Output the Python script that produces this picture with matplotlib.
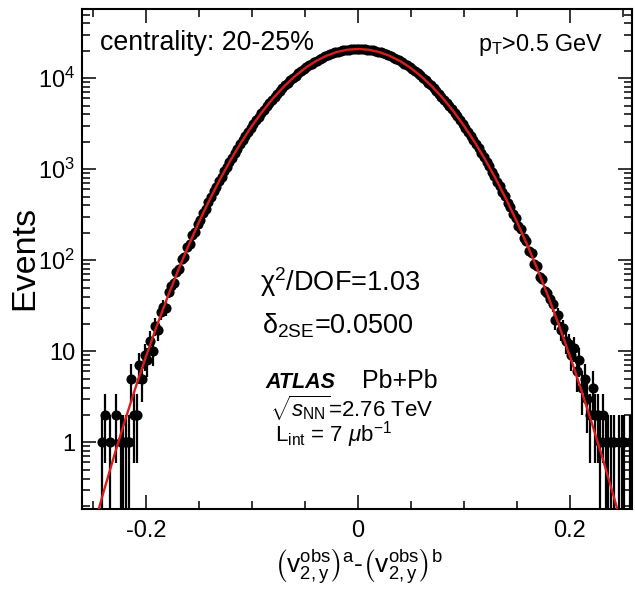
import numpy as np
import matplotlib
matplotlib.use("Agg")
import matplotlib.pyplot as plt
from matplotlib.ticker import MultipleLocator, LogLocator, NullFormatter

plt.rcParams['font.family'] = ['Liberation Sans', 'DejaVu Sans']
plt.rcParams['mathtext.fontset'] = 'custom'
plt.rcParams['mathtext.rm'] = 'Liberation Sans'
plt.rcParams['mathtext.it'] = 'Liberation Sans:italic'
plt.rcParams['mathtext.bf'] = 'Liberation Sans:bold'

# ---- data (bin width 0.0025, centres from -0.25875 to 0.25875) ----
bin_width = 0.0025
first_center = -0.25875
counts_left = [0, 0, 0, 0, 0, 0, 0, 1, 2, 0, 1, 0, 2, 0, 1, 1, 1, 1, 5, 2,
               2, 7, 5, 9, 8, 13, 10, 19, 17, 27, 31, 30, 45, 52, 56, 75, 80, 104,
               109, 140, 150, 189, 205, 252, 279, 335, 370, 441, 490, 575, 640, 745,
               828, 952, 1060, 1211, 1345, 1524, 1688, 1899, 2097, 2345, 2581, 2868,
               3146, 3472, 3795, 4165, 4532, 4947, 5360, 5820, 6279, 6784, 7285,
               7830, 8368, 8949, 9518, 10129, 10725, 11355, 11966, 12606, 13220,
               13859, 14465, 15090, 15675, 16271, 16820, 17374, 17875, 18373, 18811,
               19242, 19605, 19956, 20235, 20497, 20683, 20848, 20936, 21001]
counts_right = [20988, 20950, 20835, 20698, 20483, 20250, 19940, 19620, 19228, 18826,
                18359, 17890, 17360, 16835, 16257, 15690, 15076, 14480, 13845, 13235,
                12592, 11980, 11340, 10738, 10115, 9532, 8935, 8381, 7817, 7298, 6770,
                6292, 5807, 5373, 4932, 4546, 4151, 3808, 3458, 3160, 2853, 2597, 2329,
                2113, 1883, 1703, 1508, 1360, 1195, 1077, 938, 844, 728, 656, 560, 505,
                426, 385, 320, 292, 238, 219, 176, 163, 128, 121, 92, 86, 66, 63, 46,
                44, 38, 33, 22, 25, 17, 18, 13, 12, 9, 11, 6, 8, 4, 5, 3, 2, 4, 2, 2,
                1, 2, 1, 1, 1, 1, 0, 1, 1, 1, 0, 1, 0]

fit_step = 0.01
fit_start = -0.26
fit_values = [0.0409, 0.110, 0.286, 0.714, 1.713, 3.953, 8.774, 18.74, 38.48, 76.03,
              144.4, 263.9, 464.0, 784.6, 1276, 1996, 3002, 4345, 6047, 8095, 10420,
              12910, 15380, 17630, 19430, 20590, 21000, 20590, 19430, 17630, 15380,
              12910, 10420, 8095, 6047, 4345, 3002, 1996, 1276, 784.6, 464.0, 263.9,
              144.4, 76.03, 38.48, 18.74, 8.774, 3.953, 1.713, 0.714, 0.286, 0.110,
              0.0409]

xtick_vals = [-0.2, 0.0, 0.2]
xtick_labels = ['-0.2', '0', '0.2']
ytick_vals = [1, 10, 100, 1000, 10000]
ytick_labels = ['1', '10', r'$10^{2}$', r'$10^{3}$', r'$10^{4}$']

# ---- figure ----
W, H = 635, 591
fig = plt.figure(figsize=(W / 100, H / 100), dpi=100)
ax = fig.add_axes([82 / W, 1 - 509 / H, 550 / W, 500 / H])

counts = np.array(counts_left + counts_right, dtype=float)
centers = first_center + bin_width * np.arange(len(counts))
m = counts > 0
y = counts[m]
x = centers[m]
err = np.sqrt(y)
err_lo = np.where(err >= y, y - 1e-4, err)

ax.errorbar(x, y, yerr=[err_lo, err], xerr=bin_width / 2, fmt='o', color='black',
            ms=7.3, mew=0, elinewidth=1.6, capsize=0, zorder=3)

fit_x = fit_start + fit_step * np.arange(len(fit_values))
ax.plot(fit_x, fit_values, color='#dc1c1c', lw=1.7, zorder=5)

ax.set_yscale('log')
ax.set_xlim(-0.2604, 0.2585)
ax.set_ylim(0.185, 5.77e4)

ax.set_xticks(xtick_vals)
ax.set_xticklabels(xtick_labels)
ax.xaxis.set_minor_locator(MultipleLocator(0.05))
ax.set_yticks(ytick_vals)
ax.set_yticklabels(ytick_labels)
ax.yaxis.set_minor_locator(LogLocator(base=10, subs=np.arange(2, 10)))
ax.yaxis.set_minor_formatter(NullFormatter())

ax.tick_params(which='both', direction='in', top=True, right=True, width=1.1,
               labelsize=17)
ax.tick_params(which='major', length=10)
ax.tick_params(which='minor', length=5.5)
ax.tick_params(axis='x', pad=8)
ax.tick_params(axis='y', pad=5)
for s in ax.spines.values():
    s.set_linewidth(1.5)


def fx(px):
    return px / W


def fy(py):
    return 1 - py / H


fig.text(fx(100), fy(50), 'centrality: 20-25%', fontsize=19.3, va='baseline')
fig.text(fx(478), fy(51), r'p$_{\mathrm{T}}$>0.5 GeV', fontsize=16.8, va='baseline')
fig.text(fx(260), fy(291), 'χ$^{2}$/DOF=1.03', fontsize=19.5, va='baseline')
fig.text(fx(262), fy(333), r'δ$_{\mathrm{2SE}}$=0.0500', fontsize=19.5, va='baseline')
fig.text(fx(265), fy(388), 'ATLAS', fontsize=15.5, fontweight='bold', fontstyle='italic',
         va='baseline')
fig.text(fx(362), fy(388), 'Pb+Pb', fontsize=18, va='baseline')
fig.text(fx(270), fy(417), r'$\sqrt{s_{\mathrm{NN}}}$=2.76 TeV', fontsize=16,
         va='baseline')
fig.text(fx(275), fy(442), r'L$_{\mathrm{int}}$ = 7 $\mu$b$^{-1}$', fontsize=16,
         va='baseline')

fig.text(fx(25), fy(258), 'Events', fontsize=24.5, rotation=90, ha='center',
         va='center')
fig.text(fx(358), fy(567),
         r'$\left(\mathrm{v}^{\mathrm{obs}}_{2,\mathrm{y}}\right)^{\mathrm{a}}$-'
         r'$\left(\mathrm{v}^{\mathrm{obs}}_{2,\mathrm{y}}\right)^{\mathrm{b}}$',
         fontsize=19, ha='center', va='center')

fig.savefig('out.png', dpi=100)
